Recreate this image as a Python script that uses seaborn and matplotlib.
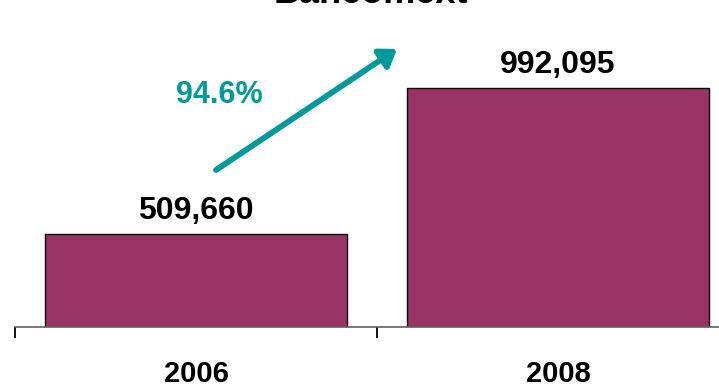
import matplotlib
matplotlib.use("Agg")
import matplotlib.pyplot as plt
import seaborn as sns
import pandas as pd

# Data
years = ["2006", "2008"]
totals = [509660, 992095]
growth_label = "94.6%"
title = "Bancomext"

BAR_COLOR = "#993366"
TEAL = "#009999"

sns.set_theme(style="white")
plt.rcParams["font.family"] = ["Liberation Sans", "DejaVu Sans"]
plt.rcParams["text.color"] = "black"
plt.rcParams["xtick.color"] = "black"
plt.rcParams["xtick.labelcolor"] = "black"

W, H, DPI = 719, 387, 100
fig = plt.figure(figsize=(W / DPI, H / DPI), dpi=DPI)

# Axes: left boundary at x=15px, extends past right edge; baseline at y=327px
left_px, right_px, base_px = 15, 739, 327
ax = fig.add_axes([left_px / W, (H - base_px) / H, (right_px - left_px) / W, base_px / H])

df = pd.DataFrame({"year": years, "total": totals})
sns.barplot(data=df, x="year", y="total", order=years, color=BAR_COLOR,
            saturation=1, width=0.834, edgecolor="black", linewidth=1, ax=ax)

ax.set_xlim(-0.5, 1.5)
ymin = 200000
ax.set_ylim(ymin, ymin + base_px * (totals[1] - ymin) / 239)

for c in ax.containers:
    ax.bar_label(c, labels=[f"{v:,.0f}" for v in totals], padding=5.5,
                 fontsize=23, fontweight="bold", color="black")

# Spines and ticks
for s in ["left", "top", "right"]:
    ax.spines[s].set_visible(False)
ax.spines["bottom"].set_color("#606060")
ax.spines["bottom"].set_linewidth(1.2)
ax.set_yticks([])
ax.set_xlabel("")
ax.set_ylabel("")
ax.set_xticks([0, 1])
ax.set_xticklabels(years, fontsize=21, fontweight="bold", color="black")
ax.tick_params(axis="x", which="major", length=0, pad=24)
ax.set_xticks([-0.5, 0.5, 1.5], minor=True)
ax.tick_params(axis="x", which="minor", bottom=True, length=8, width=1.3,
               color="black", direction="out")

# Growth arrow and label
def fxy(px, py):
    return (px / W, 1 - py / H)

fig.add_artist(matplotlib.patches.FancyArrowPatch(
    fxy(216, 170), fxy(397, 49), transform=fig.transFigure,
    arrowstyle="-|>,head_length=6,head_width=4.2", mutation_scale=1.6,
    color=TEAL, linewidth=4.2, shrinkA=0, shrinkB=0))
fig.text(*fxy(219, 95), growth_label, color=TEAL, fontsize=22, fontweight="bold",
         ha="center", va="center")

# Title, mostly above the visible area
fig.text(*fxy(371, 3), title, fontsize=26, fontweight="bold", color="black",
         ha="center", va="baseline")

fig.savefig("out.png", dpi=DPI)
